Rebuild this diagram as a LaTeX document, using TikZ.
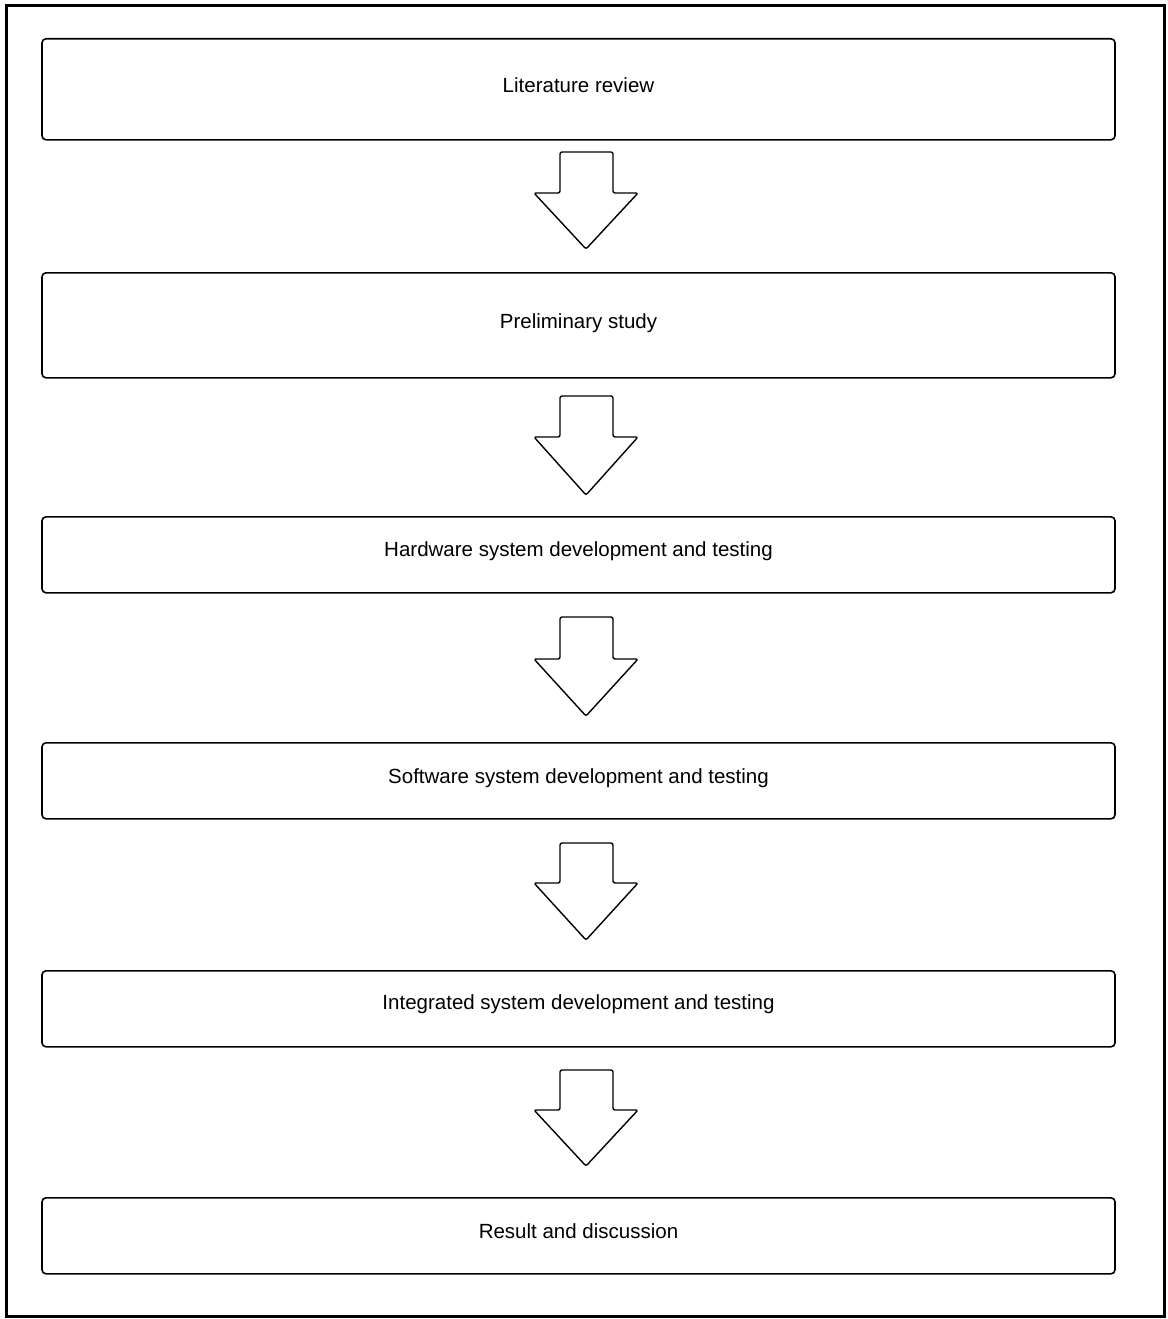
\documentclass[tikz,border=0pt]{standalone}
\usepackage{fontspec}
\setmainfont{Liberation Sans}
\begin{document}
\begin{tikzpicture}[x=1pt,y=-1pt,
  stagebox/.style={draw=black,line width=1.6pt,rounded corners=4pt,minimum width=1073pt,anchor=north,inner sep=0pt},
  stagelabel/.style={font=\fontsize{20.5}{24}\selectfont,inner sep=0pt},
  downarrow/.style={draw=black,line width=1.4pt,fill=white,rounded corners=2pt,line join=round}]
\useasboundingbox (0,0) rectangle (1167,1319);
\draw[line width=3pt] (6,6) rectangle (1164,1316);
\node[stagebox,minimum height=101pt] (b1) at (578.5,38) {};
\node[stagebox,minimum height=105pt] (b2) at (578.5,272) {};
\node[stagebox,minimum height=76pt] (b3) at (578.5,516) {};
\node[stagebox,minimum height=76pt] (b4) at (578.5,742) {};
\node[stagebox,minimum height=76pt] (b5) at (578.5,970) {};
\node[stagebox,minimum height=76pt] (b6) at (578.5,1197) {};
\node[stagelabel] (t1) at (578.5,85) {Literature review};
\node[stagelabel] (t2) at (578.5,323) {Preliminary study};
\node[stagelabel] (t3) at (578.5,551) {Hardware system development and testing};
\node[stagelabel] (t4) at (578.5,778) {Software system development and testing};
\node[stagelabel] (t5) at (578.5,1004) {Integrated system development and testing};
\node[stagelabel] (t6) at (578.5,1231) {Result and discussion};
% arrows: top, shoulder, tip
\foreach \t/\s/\p in {152/193/249, 396/437/495, 617/659/716, 843/883/940, 1070/1110/1166}{
  \draw[downarrow] (560,\t) -- (613,\t) -- (613,\s) -- (638,\s) -- (586,\p) -- (534,\s) -- (560,\s) -- cycle;
}
\end{tikzpicture}
\end{document}
